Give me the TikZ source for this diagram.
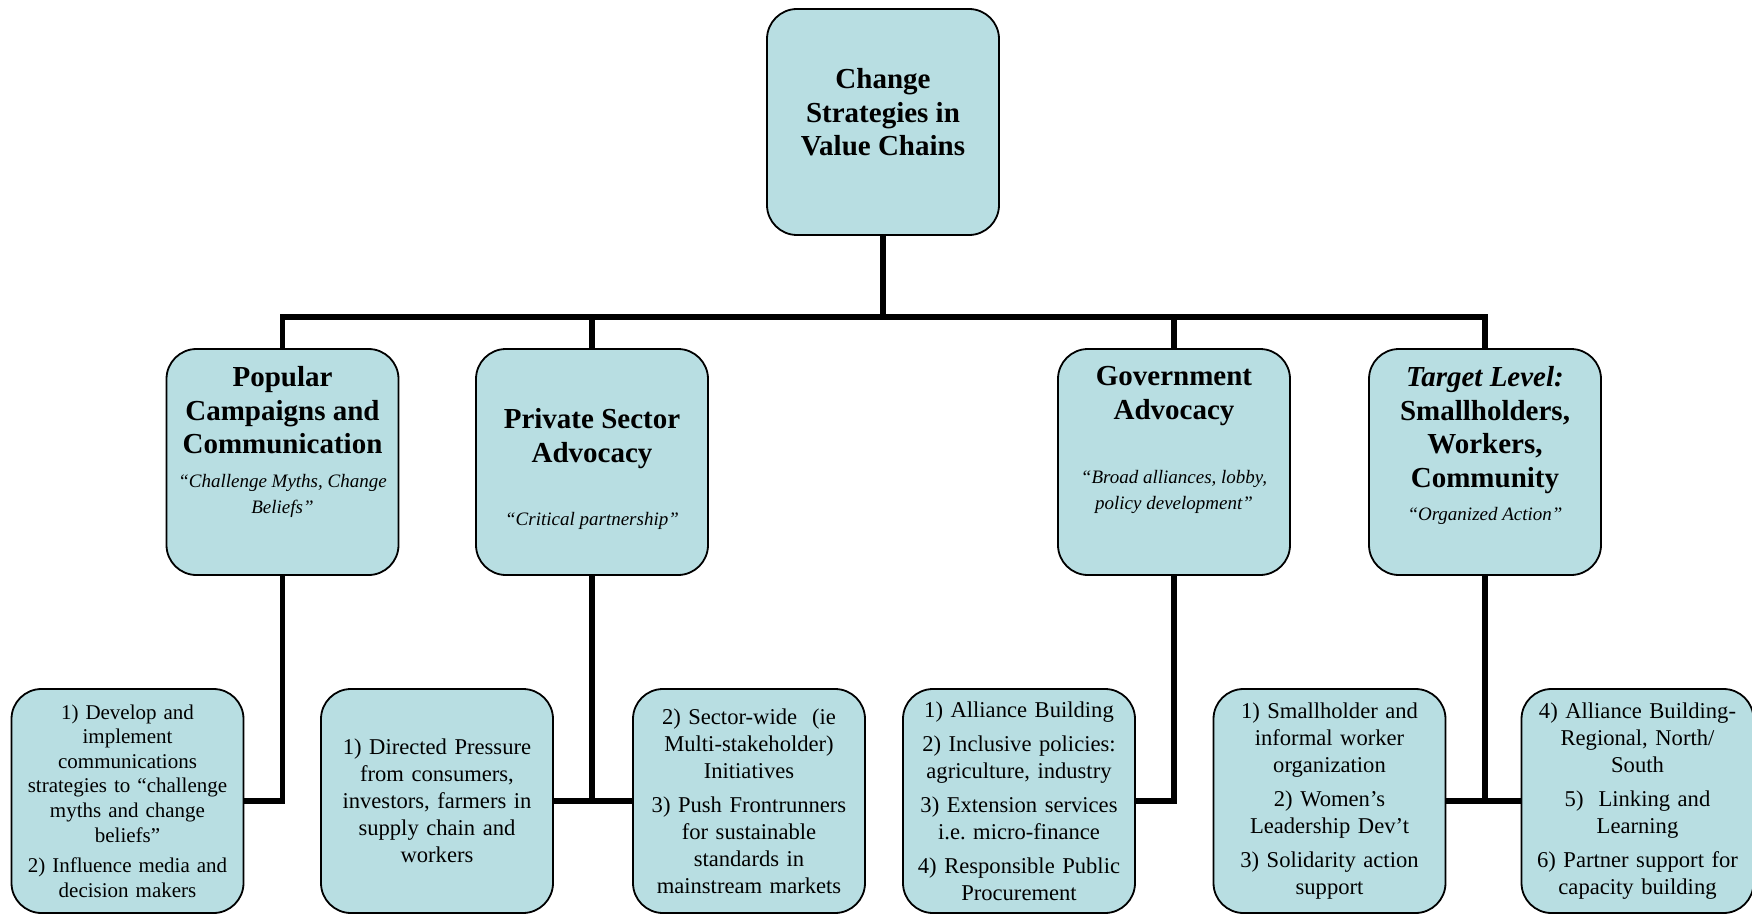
\documentclass[tikz,border=0pt]{standalone}
\usepackage{fontspec}
\setmainfont{Liberation Serif}
\usetikzlibrary{positioning}
\definecolor{boxfill}{RGB}{184,222,226}

\tikzset{
  box/.style={draw=black, line width=0.9pt, fill=boxfill, rounded corners=15pt,
    minimum width=116pt, minimum height=113pt, inner sep=0pt},
  leafbox/.style={box, minimum height=112pt, inner sep=3pt, text width=110pt,
    align=center, font=\fontsize{11.3}{13.5}\selectfont},
  headtxt/.style={align=center, inner sep=0pt, font=\bfseries\fontsize{14.5}{16.75}\selectfont},
  tagtxt/.style={align=center, inner sep=0pt, font=\itshape\fontsize{9.5}{12.85}\selectfont},
  link/.style={line width=2.8pt}
}

\begin{document}
\begin{tikzpicture}[x=0.5pt,y=-0.5pt]
\useasboundingbox (0,0) rectangle (1752,915);

% root
\node[box] (top) at (883,122) {};
\node[headtxt, below=30pt of top.north] (topH) {Change\\Strategies in\\Value Chains};

% strategies
\node[box] (pop) at (282.5,462) {};
\node[box] (priv) at (592,462) {};
\node[box] (gov) at (1174,462) {};
\node[box] (tgt) at (1485,462) {};

\node[headtxt, below=9pt of pop.north] (popH) {Popular\\Campaigns and\\Communication};
\node[tagtxt, below=63pt of pop.north] (popT) {“Challenge Myths, Change\\Beliefs”};
\node[headtxt, below=30pt of priv.north] (privH) {Private Sector\\Advocacy};
\node[tagtxt, below=82pt of priv.north] (privT) {“Critical partnership”};
\node[headtxt, below=9pt of gov.north] (govH) {Government\\Advocacy};
\node[tagtxt, below=61pt of gov.north] (govT) {“Broad alliances, lobby,\\policy development”};
\node[headtxt, below=9pt of tgt.north] (tgtH) {\textit{Target Level:}\\Smallholders,\\Workers,\\Community};
\node[tagtxt, below=79.5pt of tgt.north] (tgtT) {“Organized Action”};

% actions
\node[leafbox, font=\fontsize{10.5}{12.3}\selectfont] (b1) at (127.5,801)
  {1) Develop and\\implement\\communications\\strategies to “challenge\\myths and change\\beliefs”\\[3pt]2) Influence media and\\decision makers};
\node[leafbox] (b2) at (437,801)
  {1) Directed Pressure\\from consumers,\\investors, farmers in\\supply chain and\\workers};
\node[leafbox] (b3) at (749,801)
  {2) Sector-wide~ (ie\\Multi-stakeholder)\\Initiatives\\[3.5pt]3) Push Frontrunners\\for sustainable\\standards in\\mainstream markets};
\node[leafbox] (b4) at (1019,801)
  {1) Alliance Building\\[3.5pt]2) Inclusive policies:\\agriculture, industry\\[3.5pt]3) Extension services\\i.e.\ micro-finance\\[3.5pt]4) Responsible Public\\Procurement};
\node[leafbox] (b5) at (1329.5,801)
  {1) Smallholder and\\informal worker\\organization\\[3.5pt]2) Women’s\\Leadership Dev’t\\[3.5pt]3) Solidarity action\\support};
\node[leafbox] (b6) at (1637.5,801)
  {4) Alliance Building-\\Regional, North/\\South\\[3.5pt]5)~ Linking and\\Learning\\[3.5pt]6) Partner support for\\capacity building};

% tree
\coordinate (bar) at (883,317);
\draw[link] (top.south) -- (top.south |- bar);
\draw[link] (pop.north) |- (tgt.north |- bar) -- (tgt.north);
\foreach \n in {priv,gov}
  \draw[link] (\n.north) -- (\n.north |- bar);

\draw[link] (pop.south) |- (b1.east);
\draw[link] (priv.south) -- (priv.south |- b2.east);
\draw[link] (b2.east) -- (b3.west);
\draw[link] (gov.south) |- (b4.east);
\draw[link] (tgt.south) -- (tgt.south |- b5.east);
\draw[link] (b5.east) -- (b6.west);
\end{tikzpicture}
\end{document}
